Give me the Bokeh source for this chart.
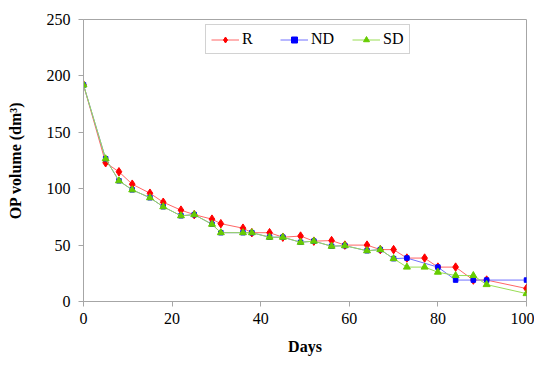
from bokeh.plotting import figure
from bokeh.models import Legend, LegendItem, FixedTicker, Range1d
from bokeh.embed import file_html
from bokeh.resources import INLINE

# Data
days = [0, 5, 8, 11, 15, 18, 22, 25, 29, 31, 36, 38, 42, 45, 49, 52, 56, 59, 64, 67, 70, 73, 77, 80, 84, 88, 91, 100]
r_vals = [192, 123, 115, 104, 96, 88, 81, 77, 73, 69, 65, 61, 61, 57, 58, 53.5, 54, 50, 50, 46, 46, 38.5, 38.5, 30.5, 30.5, 19, 19, 11.5]
sd_vals = [192, 126.5, 107, 99, 92, 84, 76, 77, 68.5, 61, 61, 61, 57, 57, 52.5, 53.5, 49, 49.5, 45, 46, 38, 30.5, 30.5, 26, 23, 23, 15, 7]
nd_days = [0, 5, 8, 11, 15, 18, 22, 25, 29, 31, 36, 38, 42, 45, 49, 52, 56, 59, 64, 67, 70, 73, 80, 84, 88, 91, 100]
nd_vals = [192, 126.5, 107, 99, 92, 84, 76, 77, 68.5, 61, 61, 61, 57, 57, 52.5, 53.5, 49, 49.5, 45, 46, 38, 38.5, 30.5, 19, 19, 19, 19]

x_ticks = [0, 20, 40, 60, 80, 100]
y_ticks = [0, 50, 100, 150, 200, 250]

SERIF = "Liberation Serif"
GRAY = "#a6a6a6"

p = figure(width=534, height=358, output_backend="svg", toolbar_location=None,
           x_range=Range1d(0, 100), y_range=Range1d(0, 250),
           min_border_left=83, min_border_right=8, min_border_top=19, min_border_bottom=57)

p.xgrid.visible = False
p.ygrid.visible = False
p.outline_line_color = GRAY
p.outline_line_width = 1
p.background_fill_color = "white"
p.border_fill_color = "white"

for ax in (p.xaxis[0], p.yaxis[0]):
    ax.axis_line_color = GRAY
    ax.major_tick_line_color = GRAY
    ax.minor_tick_line_color = None
    ax.major_tick_out = 5
    ax.major_tick_in = 0
    ax.major_label_text_font = SERIF
    ax.major_label_text_font_size = "16px"
    ax.major_label_text_color = "black"
    ax.axis_label_text_font = SERIF
    ax.axis_label_text_font_style = "bold"
    ax.axis_label_text_font_size = "16px"
    ax.axis_label_text_color = "black"

p.xaxis.ticker = FixedTicker(ticks=x_ticks)
p.yaxis.ticker = FixedTicker(ticks=y_ticks)
p.xaxis.axis_label = "Days"
p.yaxis.axis_label = "OP volume (dm³)"
p.xaxis.major_label_standoff = 6
p.yaxis.major_label_standoff = 8
p.xaxis.axis_label_standoff = 11
p.yaxis.axis_label_standoff = 20

r_line = p.line(days, r_vals, line_color="#ff6666", line_width=1)
r_mark = p.scatter(days, r_vals, marker="diamond", size=8.5, fill_color="#ff0000", line_color="#ff0000")
nd_line = p.line(nd_days, nd_vals, line_color="#7070ff", line_width=1)
nd_mark = p.scatter(nd_days, nd_vals, marker="square", size=4.5, fill_color="#0000ff", line_color="#0000ff")
sd_line = p.line(days, sd_vals, line_color="#99dd55", line_width=1)
sd_mark = p.scatter(days, sd_vals, marker="triangle", size=7, fill_color="#66cc00", line_color="#66cc00")

legend = Legend(items=[
    LegendItem(label="R", renderers=[r_line, r_mark]),
    LegendItem(label="ND", renderers=[nd_line, nd_mark]),
    LegendItem(label="SD", renderers=[sd_line, sd_mark]),
], orientation="horizontal", location=(122, 247))
legend.label_text_font = SERIF
legend.label_text_font_size = "16px"
legend.label_text_color = "black"
legend.border_line_color = GRAY
legend.border_line_width = 1
legend.background_fill_color = "white"
legend.glyph_width = 28
legend.glyph_height = 15
legend.label_standoff = 3
legend.spacing = 18
legend.padding = 5
legend.margin = 0
legend.label_height = 15
p.add_layout(legend, "center")

open("out.html", "w").write(file_html(p, INLINE))
